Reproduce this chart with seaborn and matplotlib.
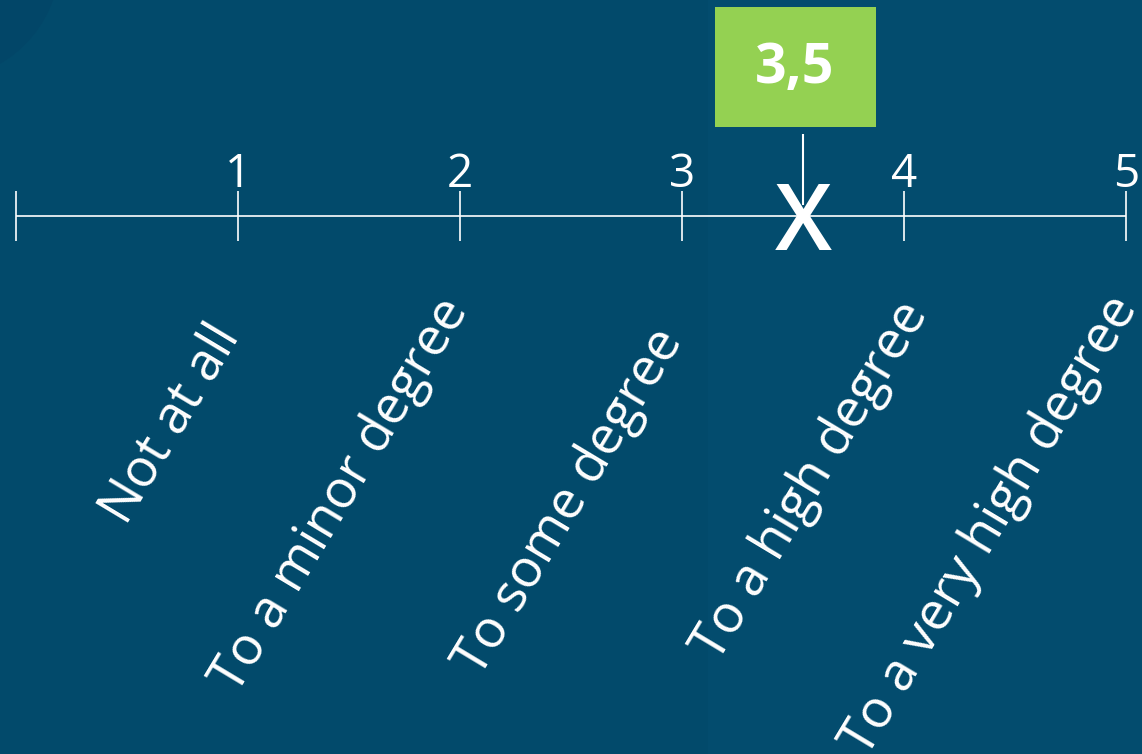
import matplotlib
matplotlib.use("Agg")
import matplotlib.pyplot as plt
import matplotlib.patches as mpatches
import seaborn as sns

# scale data
positions = [0, 1, 2, 3, 4, 5]
tick_numbers = ["", "1", "2", "3", "4", "5"]
scale_labels = ["Not at all", "To a minor degree", "To some degree",
                "To a high degree", "To a very high degree"]
label_positions = [1, 2, 3, 4, 5]
score = 3.5
score_text = "3,5"

# layout nudges for the hand-placed labels (pixels)
label_dx = [-9, -3, -11, 12, 0]
label_y = [330, 303, 333, 306, 300]

bg = "#024a6b"
green = "#94d152"

sns.set_theme(style="white")
plt.rcParams['font.family'] = ['Open Sans', 'DejaVu Sans']

fig = plt.figure(figsize=(11.42, 7.54), dpi=100, facecolor=bg)
ax = fig.add_axes([0, 0, 1, 1])
ax.set_facecolor(bg)

# x in scale units, y in pixels from top
px = 222  # pixels per scale unit
xmin = -16 / px
ax.set_xlim(xmin, xmin + 1142 / px)
ax.set_ylim(754, 0)
ax.axis("off")

# subtle background decoration
ax.add_patch(mpatches.Rectangle((xmin + 708 / px, 0), 5, 754,
                                color="#034c6e", lw=0, zorder=0))
ax.add_patch(mpatches.Ellipse((xmin - 60 / px, -40), 240 / px, 240,
                              color="#024668", lw=0, zorder=0))

axis_y = 216
# axis line
ax.hlines(axis_y, positions[0], positions[-1], color="white", lw=1.2, zorder=2)
# tick marks
sns.scatterplot(x=positions, y=[axis_y] * len(positions), marker="|", s=1250,
                linewidth=1.2, color="white", ax=ax, zorder=3, legend=False)

# numbers above ticks
for p, t in zip(positions, tick_numbers):
    ax.text(p, 175, t, color="white", fontsize=33, ha="center", va="center")

# rotated category labels
for p, lab, dx, y in zip(label_positions, scale_labels, label_dx, label_y):
    ax.text(p + dx / px, y, lab, color="white", fontsize=38, rotation=59,
            rotation_mode="anchor", ha="right", va="center")

# score marker
mark_x = score + 10 / px
ax.vlines(mark_x, 134, 205, color="white", lw=1.5, zorder=3)
ax.text(mark_x, 226, "X", color="white", fontsize=66, fontweight=600,
        ha="center", va="center", zorder=4)

# score box
box_w = 161 / px
box_x = score + 2 / px
ax.add_patch(mpatches.Rectangle((box_x - box_w / 2, 7), box_w, 120,
                                color=green, lw=0, zorder=3))
ax.text(box_x, 69, score_text, color="white", fontsize=40, fontweight="bold",
        ha="center", va="center", zorder=4)

fig.savefig("out.png", dpi=100, facecolor=bg)
